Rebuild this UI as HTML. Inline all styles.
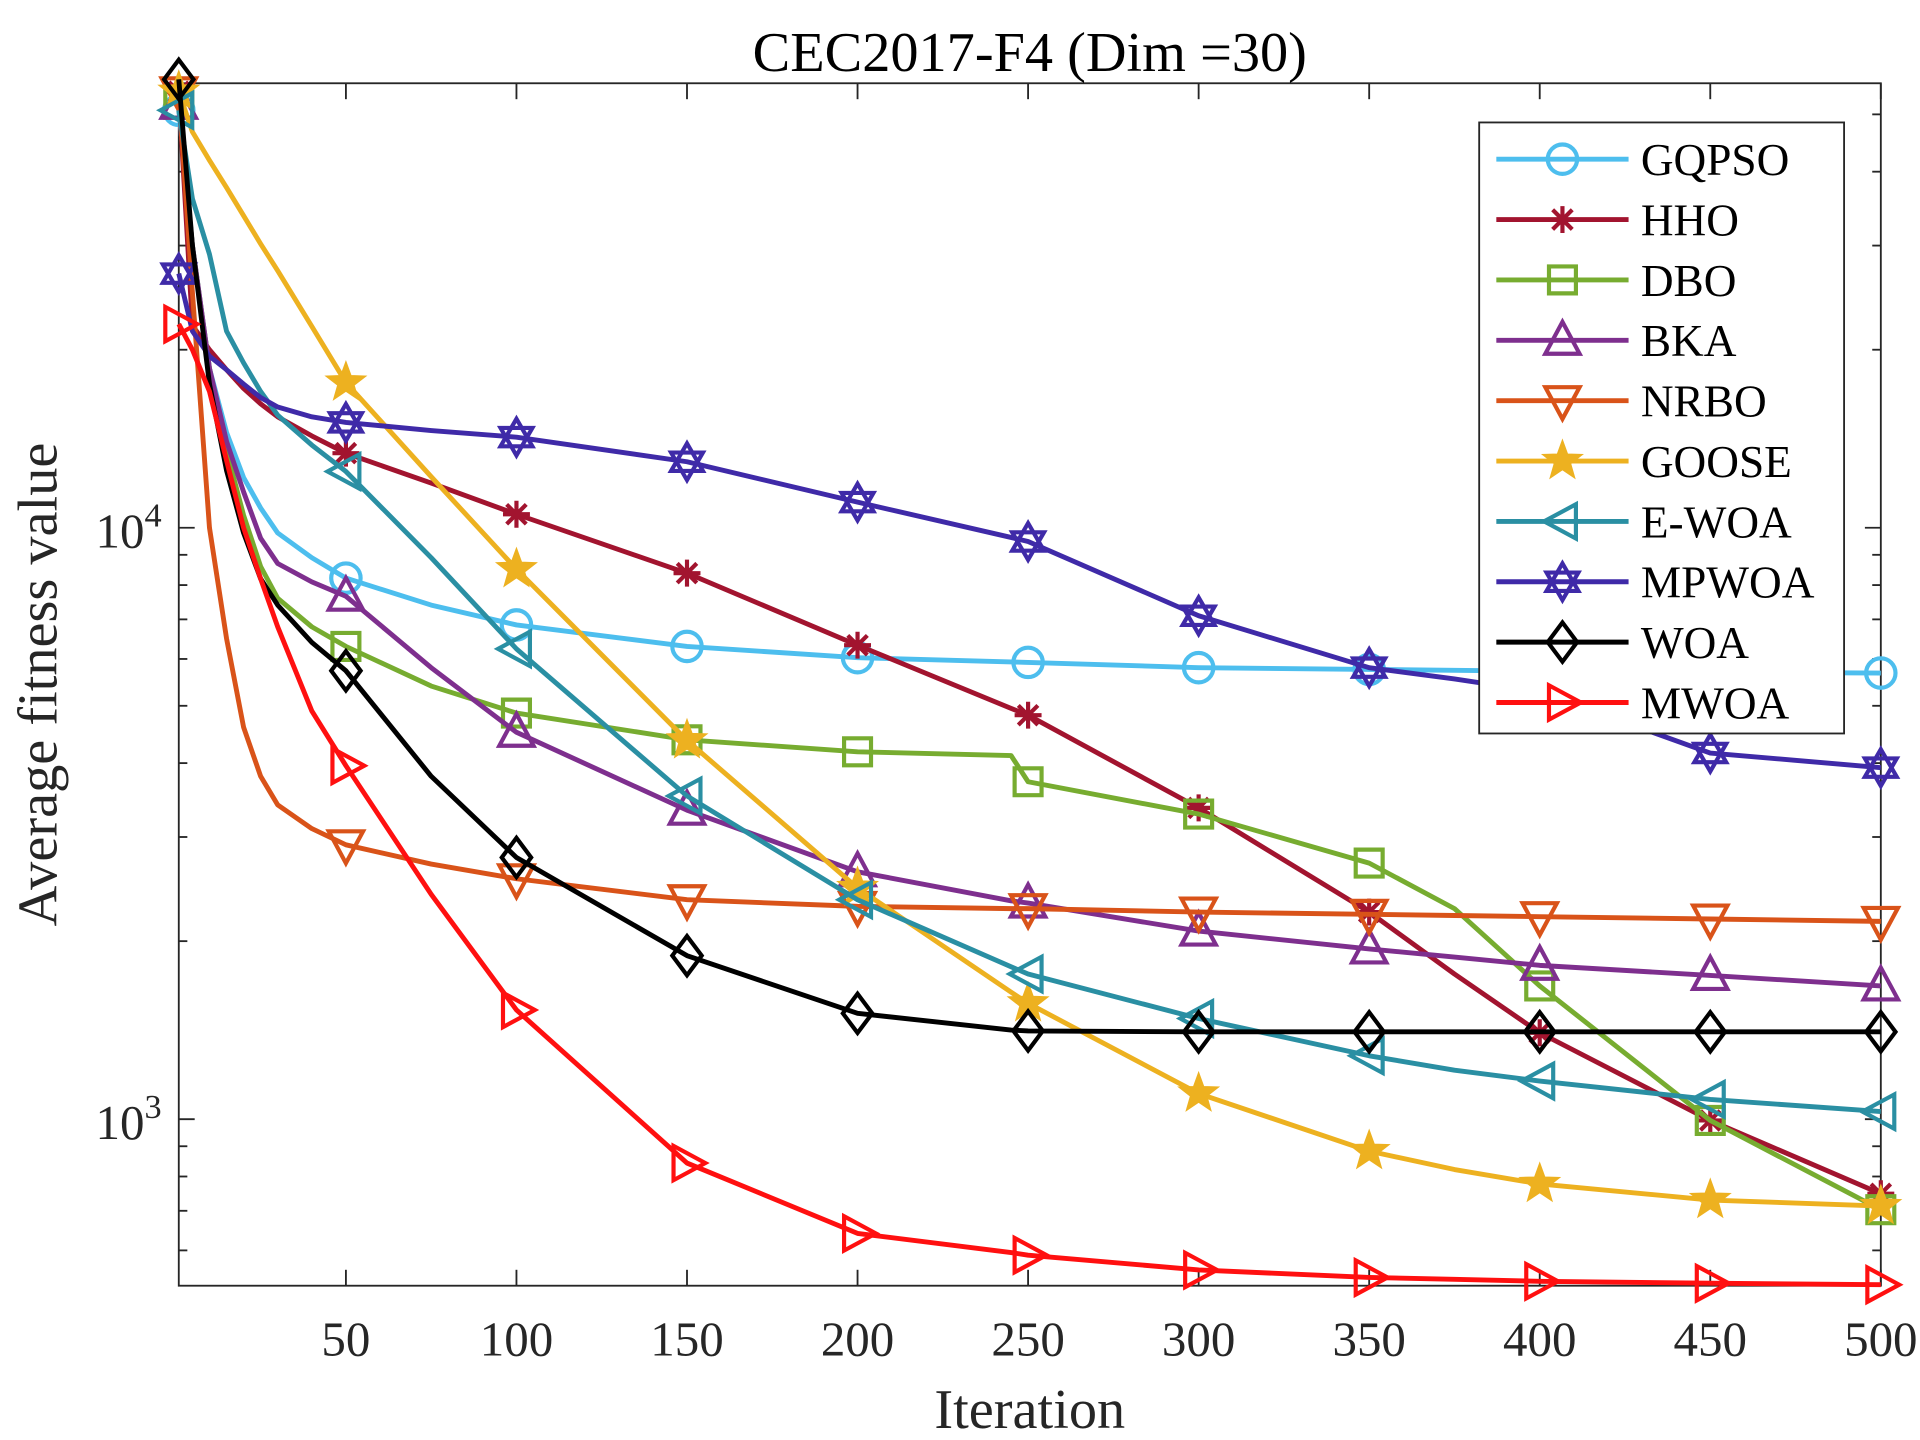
<!DOCTYPE html>
<html><head><meta charset="utf-8"><style>
html,body{margin:0;padding:0;background:#fff;}
svg{display:block;font-family:"Liberation Serif",serif;}
</style></head><body>
<svg id="chart" width="1920" height="1440" viewBox="0 0 1568 1176" preserveAspectRatio="none" xmlns="http://www.w3.org/2000/svg">
<rect x="0" y="0" width="1568" height="1176" fill="#fff"/>
<g id="plot"></g>
</svg>
<script>
const iters = [1,5,10,15,20,25,30,40,50,75,100,150,200,245,250,300,350,375,400,450,500];
const xTicks = [50,100,150,200,250,300,350,400,450,500];
const markerIters = [1,50,100,150,200,250,300,350,400,450,500];
const seriesNames = ["GQPSO","HHO","DBO","BKA","NRBO","GOOSE","E-WOA","MPWOA","WOA","MWOA"];
const gqpso = [50800,30000,18600,14500,12160,10800,9800,8900,8220,7400,6850,6300,6030,5930,5920,5800,5760,5740,5720,5700,5680];
const hho   = [54600,22000,20000,18500,17200,16200,15400,14300,13370,11900,10540,8380,6330,4950,4820,3360,2240,1760,1400,995,748];
const dbo   = [52000,30000,18600,13500,10500,8600,7600,6800,6300,5400,4860,4380,4180,4120,3720,3280,2710,2270,1680,995,703];
const bka   = [52000,30000,18600,14000,11500,9600,8700,8100,7660,5800,4510,3330,2620,2340,2320,2080,1940,1880,1820,1750,1680];
const nrbo  = [54600,25000,10000,6500,4600,3800,3400,3100,2910,2700,2550,2350,2290,2270,2270,2240,2220,2210,2200,2180,2160];
const goose = [54600,46700,41800,37600,33700,30200,27200,21900,17600,12200,8510,4370,2460,1640,1570,1105,883,822,777,730,713];
const ewoa  = [50800,36000,29000,21500,19000,17000,15500,13800,12450,8900,6240,3520,2350,1810,1760,1480,1280,1210,1160,1080,1030];
const mpwoa = [26900,21500,19500,18500,17500,16600,16000,15400,15070,14600,14230,12930,11050,9630,9480,7100,5800,5550,5280,4160,3930];
const woa   = [57300,30000,17500,12500,9800,8200,7400,6400,5730,3800,2770,1890,1510,1415,1410,1405,1405,1405,1405,1405,1405];
const mwoa  = [22100,20000,17000,13000,10000,8200,6800,4900,3960,2400,1530,843,641,595,589,556,540,536,532,528,525];
const allSeries = [gqpso,hho,dbo,bka,nrbo,goose,ewoa,mpwoa,woa,mwoa];
const colors = ["#4DBEEE","#A2142F","#77AC30","#7E2F8E","#D95319","#EDB120","#2A8FA3","#3F2AA8","#000000","#FF1010"];
const markers = ["circle","asterisk","square","tri-up","tri-down","star","tri-left","hexagram","diamond","tri-right"];

const L=146,R=1536,T=68,B=1050;
const X = i => L + (i-1)*(R-L)/499;
const Y = v => 431 - (Math.log10(v)-4)*483;
const NS="http://www.w3.org/2000/svg";
const g=document.getElementById('plot');
function mk(tag,attrs,parent){const e=document.createElementNS(NS,tag);for(const k in attrs)e.setAttribute(k,attrs[k]);(parent||g).appendChild(e);return e;}
function valAt(arr,it){for(let k=0;k<iters.length-1;k++){if(it>=iters[k]&&it<=iters[k+1]){const t=(it-iters[k])/(iters[k+1]-iters[k]);return Math.pow(10,Math.log10(arr[k])*(1-t)+Math.log10(arr[k+1])*t);}}return arr[arr.length-1];}
function marker(type,cx,cy,col,parent){
  const sw=3.4; let e;
  const poly=(pts)=>mk('polygon',{points:pts.map(p=>(cx+p[0])+','+(cy+p[1])).join(' '),fill:'none',stroke:col,'stroke-width':sw},parent);
  if(type==='circle') e=mk('circle',{cx,cy,r:12,fill:'none',stroke:col,'stroke-width':sw},parent);
  else if(type==='square') e=poly([[-11,-11],[11,-11],[11,11],[-11,11]]);
  else if(type==='tri-up') e=poly([[0,-15],[14,11],[-14,11]]);
  else if(type==='tri-down') e=poly([[0,15],[14,-11],[-14,-11]]);
  else if(type==='tri-left') e=poly([[-15,0],[11,-14],[11,14]]);
  else if(type==='tri-right') e=poly([[15,0],[-11,-14],[-11,14]]);
  else if(type==='diamond') e=poly([[0,-16],[12,0],[0,16],[-12,0]]);
  else if(type==='asterisk'){e=mk('path',{d:`M${cx-11} ${cy}H${cx+11}M${cx} ${cy-11}V${cy+11}M${cx-8} ${cy-8}L${cx+8} ${cy+8}M${cx-8} ${cy+8}L${cx+8} ${cy-8}`,stroke:col,'stroke-width':sw,fill:'none'},parent);}
  else if(type==='star'){const p=[];for(let k=0;k<10;k++){const a=-Math.PI/2+k*Math.PI/5;const rr=k%2?7:17;p.push((cx+rr*Math.cos(a))+','+(cy+rr*Math.sin(a)));}e=mk('polygon',{points:p.join(' '),fill:col,stroke:col,'stroke-width':1},parent);}
  else if(type==='hexagram'){e=mk('g',{},parent);
    const t1=[[0,-15],[13,7.5],[-13,7.5]],t2=[[0,15],[13,-7.5],[-13,-7.5]];
    mk('polygon',{points:t1.map(p=>(cx+p[0])+','+(cy+p[1])).join(' '),fill:'none',stroke:col,'stroke-width':sw},e);
    mk('polygon',{points:t2.map(p=>(cx+p[0])+','+(cy+p[1])).join(' '),fill:'none',stroke:col,'stroke-width':sw},e);}
  return e;
}
const box=mk('rect',{x:L,y:T,width:R-L,height:B-T,fill:'none',stroke:'#262626','stroke-width':1.5});


xTicks.forEach(t=>{const x=X(t);
  mk('line',{x1:x,y1:B,x2:x,y2:B-13,stroke:'#262626','stroke-width':1.5});
  mk('line',{x1:x,y1:T,x2:x,y2:T+13,stroke:'#262626','stroke-width':1.5});
  const tx=mk('text',{x:x,y:B+57,'text-anchor':'middle','font-size':40,fill:'#262626'});tx.textContent=t;
  
  
});
for(let d=2;d<=4;d++){for(let m=1;m<10;m++){const v=m*Math.pow(10,d);const y=Y(v);if(y<T||y>B)continue;const len=m===1?13:7;
  mk('line',{x1:L,y1:y,x2:L+len,y2:y,stroke:'#262626','stroke-width':1.5});
  mk('line',{x1:R,y1:y,x2:R-len,y2:y,stroke:'#262626','stroke-width':1.5});}}
[3,4].forEach(p=>{const y=Y(Math.pow(10,p));
  const tx=mk('text',{x:L-14,y:y+16,'text-anchor':'end','font-size':40,fill:'#262626'});
  
  
  tx.innerHTML='10<tspan dy="-17" font-size="28">'+p+'</tspan>';});
allSeries.forEach((arr,s)=>{
  const sg=mk('g',{});
  
  
  mk('polyline',{points:iters.map((it,k)=>X(it)+','+Y(arr[k])).join(' '),fill:'none',stroke:colors[s],'stroke-width':4,'stroke-linejoin':'round'},sg);
  markerIters.forEach(it=>{marker(markers[s],X(it),Y(valAt(arr,it)),colors[s],sg);});
});
const lg=mk('g',{});


mk('rect',{x:1208,y:100,width:298,height:499,fill:'#fff',stroke:'#262626','stroke-width':1.5},lg);
seriesNames.forEach((n,s)=>{const y=130+s*49.3;
  const eg=mk('g',{},lg);
  
  
  mk('line',{x1:1222,y1:y,x2:1330,y2:y,stroke:colors[s],'stroke-width':4},eg);
  marker(markers[s],1276,y,colors[s],eg);
  const tx=mk('text',{x:1340,y:y+13,'font-size':37,fill:'#000'},eg);tx.textContent=n;});
const ti=mk('text',{x:841,y:58,'text-anchor':'middle','font-size':46,fill:'#000'});ti.textContent='CEC2017-F4 (Dim =30)';


const xl=mk('text',{x:841,y:1166,'text-anchor':'middle','font-size':46,fill:'#262626'});xl.textContent='Iteration';


const yl=mk('text',{x:0,y:0,'text-anchor':'middle','font-size':46,fill:'#262626',transform:'translate(46,559) rotate(-90)'});yl.textContent='Average fitness value';


</script>
</body></html>
